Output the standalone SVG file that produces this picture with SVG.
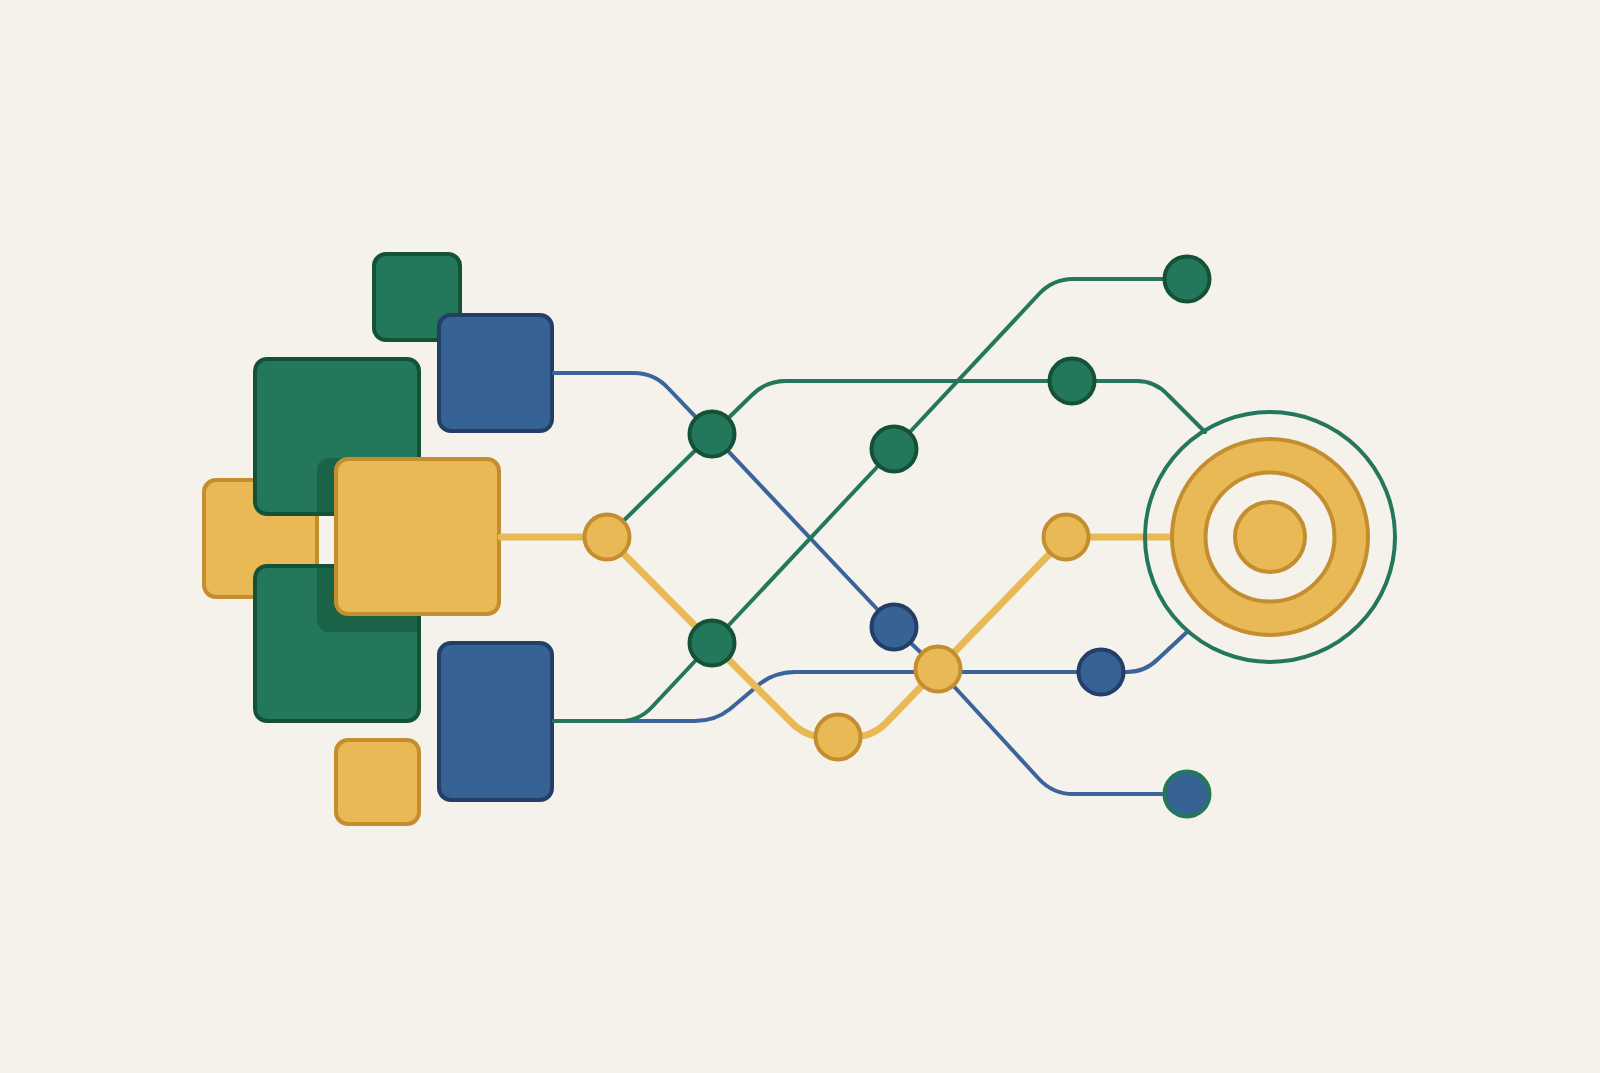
<svg xmlns="http://www.w3.org/2000/svg" width="1600" height="1073" viewBox="0 0 1600 1073">
<style>
.g{fill:#23775A;stroke:#145238;stroke-width:4}
.b{fill:#366294;stroke:#233F68;stroke-width:4}
.y{fill:#E8B955;stroke:#C48E30;stroke-width:4}
.ln{fill:none;stroke-linecap:round;stroke-linejoin:round}
.lg{stroke:#24775A;stroke-width:4}
.lb{stroke:#3A649A;stroke-width:4}
.ly{stroke:#E8B955;stroke-width:7}
</style>
<defs>
<clipPath id="gc">
<rect x="257" y="361" width="160" height="151" rx="10"/>
<rect x="257" y="568" width="160" height="151" rx="10"/>
</clipPath>
</defs>
<rect width="1600" height="1073" fill="#F5F2EC"/>
<g id="boxes">
<g id="box-yellow-left"><rect class="y" x="204" y="480" width="113" height="117" rx="12"/></g>
<g id="box-green-upper"><rect class="g" x="255" y="359" width="164" height="155" rx="12"/></g>
<g id="box-green-lower"><rect class="g" x="255" y="566" width="164" height="155" rx="12"/></g>
<rect x="317" y="458" width="170" height="174" rx="12" fill="#1A6347" clip-path="url(#gc)"/>
<g id="box-yellow-big"><rect class="y" x="336" y="459" width="163" height="155" rx="12"/></g>
<g id="box-green-small"><rect class="g" x="374" y="254" width="86" height="86" rx="12"/></g>
<g id="box-blue-top"><rect class="b" x="439" y="315" width="113" height="116" rx="12"/></g>
<g id="box-blue-bottom"><rect class="b" x="439" y="643" width="113" height="157" rx="12"/></g>
<g id="box-yellow-small"><rect class="y" x="336" y="740" width="83" height="84" rx="12"/></g>
</g>
<g id="connectors">
<path class="ln lb" d="M554 721 H695 Q715 721 730 709 L755 688 Q772 672 795 672 H1127 Q1145 672 1158 659 L1187 632"/>
<path class="ln lb" d="M554 373 H634 Q654 373 668 388 L712 434 L894 627 L938 669 L1039 779 Q1053 794 1073 794 H1187"/>
<path class="ln lg" d="M554 721 H620 Q639 721 652 707 L712 643 L894 449 L1039 294 Q1053 279 1073 279 H1187"/>
<path class="ln lg" d="M607 537 L712 434 L752 395 Q766 381 786 381 H1137 Q1155 381 1168 395 L1205 432"/>
<path class="ln ly" d="M501 537 H607 L712 643 L792 723 Q806 737 826 737 H852 Q872 737 886 723 L938 669 L1066 537 H1175"/>
</g>
<g id="target">
<circle cx="1270" cy="537" r="125" fill="none" stroke="#24775A" stroke-width="4"/>
<circle class="y" cx="1270" cy="537" r="98"/>
<circle cx="1270" cy="537" r="64.5" fill="#F5F2EC" stroke="#C48E30" stroke-width="4"/>
<circle class="y" cx="1270" cy="537" r="35"/>
</g>
<g id="nodes">
<g id="n-a"><circle class="g" cx="712" cy="434" r="22.5"/></g>
<g id="n-b"><circle class="g" cx="894" cy="449" r="22.5"/></g>
<g id="n-c"><circle class="y" cx="607" cy="537" r="22.5"/></g>
<g id="n-d"><circle class="g" cx="712" cy="643" r="22.5"/></g>
<g id="n-e"><circle class="b" cx="894" cy="627" r="22.5"/></g>
<g id="n-f"><circle class="y" cx="938" cy="669" r="22.5"/></g>
<g id="n-g"><circle class="y" cx="838" cy="737" r="22.5"/></g>
<g id="n-h"><circle class="y" cx="1066" cy="537" r="22.5"/></g>
<g id="n-i"><circle class="b" cx="1101" cy="672" r="22.5"/></g>
<g id="n-j"><circle cx="1187" cy="794" r="22.5" fill="#366294" stroke="#24775A" stroke-width="4"/></g>
<g id="n-k"><circle class="g" cx="1187" cy="279" r="22.5"/></g>
<g id="n-l"><circle class="g" cx="1072" cy="381" r="22.5"/></g>
</g>
</svg>
